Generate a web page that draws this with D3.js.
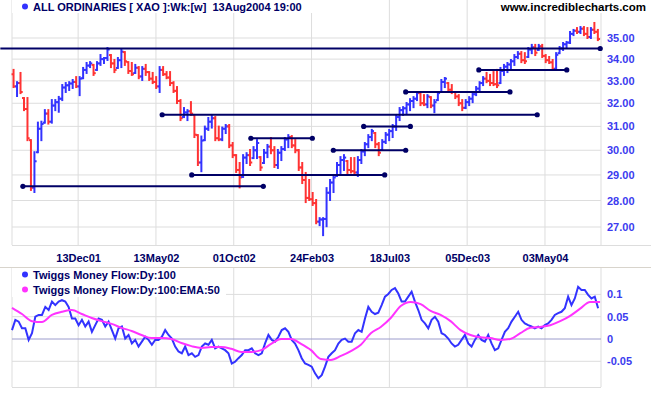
<!DOCTYPE html>
<html>
<head>
<meta charset="utf-8">
<script src="https://cdn.jsdelivr.net/npm/d3@7"></script>
<style>
body { margin: 0; background: #fff; }
svg { display: block; font-family: "Liberation Sans", Arial, sans-serif; }
</style>
</head>
<body>
<svg id="chart" width="651" height="395"></svg>
<script>
// x axis is counted in trading days, 13Dec01 = day 0, one label every 100 days
var dateLabels = ["13Dec01", "13May02", "01Oct02", "24Feb03", "18Jul03", "05Dec03", "03May04"];
var labelDays = [0, 100, 200, 300, 400, 500, 600];
var priceTicks = [27, 28, 29, 30, 31, 32, 33, 34, 35];
var flowTicks = [-0.05, 0, 0.05, 0.1];

// weekly bars of the All Ordinaries
var barStart = -83, barStep = 4.47;
var firstOpen = 33.3;
var barHigh = [33.50,32.94,33.36,32.23,32.23,30.42,29.92,31.16,31.20,31.70,31.70,32.14,32.14,32.28,32.81,32.90,32.94,33.04,33.17,33.17,
  33.59,33.82,33.86,33.73,33.86,34.19,34.05,34.52,34.19,33.96,34.05,34.43,34.33,33.86,33.82,33.73,33.63,33.63,33.73,33.40,
  33.36,33.17,33.63,33.63,33.40,33.40,32.94,32.72,32.14,31.79,31.70,32.05,31.49,30.63,30.57,30.99,31.36,31.49,31.40,30.99,
  30.95,31.06,31.06,30.30,29.80,29.48,29.80,29.88,30.01,30.13,30.42,29.72,30.01,30.22,30.51,30.13,30.01,30.13,30.51,30.63,
  30.59,30.42,30.01,29.48,29.08,28.80,28.29,28.02,27.33,27.33,28.48,28.80,29.00,29.48,29.72,29.80,29.56,29.68,29.68,29.72,
  30.01,30.30,30.63,30.85,30.72,30.30,30.42,30.72,30.85,31.06,31.49,31.79,31.83,32.01,32.18,32.27,32.50,32.50,32.36,32.36,
  32.27,32.14,32.50,33.04,33.13,32.90,32.81,32.50,32.36,32.14,32.14,32.27,32.45,32.72,32.94,33.17,33.36,33.27,33.40,33.50,
  33.59,33.73,33.82,33.96,34.19,34.33,34.33,34.28,34.52,34.67,34.67,34.67,34.67,34.19,34.10,33.96,34.28,34.57,34.76,34.81,
  35.29,35.39,35.48,35.53,35.53,35.48,35.48,35.73,35.39];
var barLow = [32.72,32.32,32.45,31.70,30.42,28.41,28.33,29.92,30.42,31.16,31.12,31.16,31.70,31.63,32.14,32.50,32.59,32.68,32.72,32.36,
  33.12,33.36,33.63,33.27,33.50,33.73,33.82,33.96,33.63,33.40,33.59,33.63,33.73,33.36,33.27,33.36,33.12,33.04,33.27,33.04,
  32.90,32.68,32.50,33.27,33.12,32.81,32.50,32.01,31.27,31.40,31.27,31.49,30.55,29.40,29.15,30.42,30.85,30.95,30.42,30.42,
  30.42,30.72,30.13,29.72,29.12,28.51,28.92,29.48,29.40,29.68,29.68,29.20,29.48,29.72,29.88,29.32,29.28,29.60,30.01,30.13,
  30.13,29.92,29.20,28.68,27.94,28.02,27.83,27.14,27.07,26.70,27.03,28.02,28.33,28.96,29.08,29.20,29.08,29.10,29.08,28.96,
  29.48,29.80,30.13,30.42,30.13,29.80,30.01,30.30,30.42,30.55,30.85,31.27,31.49,31.53,31.70,31.83,32.14,31.92,31.92,31.83,
  31.83,31.61,32.14,32.50,32.72,32.50,32.45,32.23,31.92,31.70,31.79,31.92,32.05,32.36,32.50,32.81,32.94,32.81,32.81,32.72,
  32.90,33.27,33.40,33.50,33.73,34.05,33.86,33.82,34.10,34.28,34.19,34.43,34.10,33.86,33.82,33.50,33.50,34.28,34.43,34.57,
  34.76,35.14,35.24,35.24,35.14,35.00,35.00,35.24,34.90];
var barClose = [32.75,32.90,32.50,31.75,30.50,28.50,29.55,30.90,31.10,31.55,31.20,31.90,32.05,32.20,32.70,32.80,32.88,32.95,32.75,33.10,
  33.50,33.70,33.80,33.35,33.80,34.00,34.05,34.45,33.80,33.50,33.95,34.35,33.90,33.45,33.30,33.60,33.20,33.55,33.40,33.10,
  32.95,32.75,33.50,33.30,33.15,32.90,32.55,32.10,31.35,31.60,31.65,31.55,30.65,29.50,30.40,30.90,31.20,31.35,30.50,30.45,
  30.90,31.00,30.20,29.80,29.20,28.90,29.70,29.80,29.50,30.00,30.30,29.30,29.90,30.15,30.00,29.40,29.90,30.05,30.45,30.55,
  30.20,30.00,29.30,28.80,28.10,28.05,27.90,27.20,27.28,27.30,28.30,28.70,28.90,29.40,29.60,29.70,29.20,29.15,29.10,29.60,
  29.95,30.25,30.55,30.80,30.25,29.90,30.35,30.65,30.80,31.00,31.40,31.70,31.78,31.95,32.10,32.20,32.45,32.00,31.95,32.30,
  31.90,32.05,32.45,32.95,33.10,32.60,32.50,32.30,32.00,31.80,32.05,32.20,32.40,32.65,32.90,33.10,33.00,32.90,32.85,32.80,
  33.45,33.65,33.75,33.90,34.10,34.25,33.95,33.90,34.45,34.55,34.30,34.60,34.15,33.95,33.85,33.55,34.20,34.50,34.70,34.78,
  35.20,35.35,35.30,35.45,35.20,35.05,35.40,35.30,34.95];

// horizontal support / resistance lines drawn on the chart
var levelPrice = [34.5, 28.55, 31.5, 29.0, 30.5, 30.0, 31.0, 32.5, 33.5];
var levelFrom  = [-100, -71, 108, 146, 222, 328, 367, 421, 515];
var levelTo    = [671, 238, 590, 394, 301, 421, 427, 555, 628];

// Twiggs Money Flow (100 day) and its 50 day EMA
var flowStart = -85, flowStep = 4.28;
var moneyFlow = [0.020,0.043,0.039,0.024,0.024,-0.002,0.013,0.050,0.054,0.054,
  0.072,0.065,0.084,0.076,0.084,0.087,0.084,0.072,0.046,0.046,
  0.031,0.043,0.028,0.039,0.016,0.031,0.046,0.043,0.028,0.039,
  0.020,0.001,0.024,0.028,0.001,0.009,-0.010,-0.002,-0.017,-0.006,
  0.005,-0.002,-0.013,-0.002,-0.002,0.005,0.020,0.009,0.001,-0.017,
  -0.028,-0.032,-0.017,-0.036,-0.032,-0.040,-0.036,-0.017,-0.010,-0.013,
  -0.002,-0.021,-0.017,-0.021,-0.025,-0.032,-0.055,-0.051,-0.043,-0.036,
  -0.025,-0.025,-0.021,-0.032,-0.036,-0.032,-0.010,0.009,-0.002,-0.006,
  0.005,0.020,0.024,0.016,-0.002,-0.010,-0.025,-0.043,-0.055,-0.058,
  -0.062,-0.077,-0.088,-0.081,-0.062,
  -0.040,-0.032,-0.025,-0.010,-0.002,0.001,-0.006,-0.006,0.013,0.020,
  0.016,0.046,0.072,0.061,0.056,0.059,0.076,0.095,0.101,0.110,
  0.114,0.102,0.084,0.084,0.095,0.106,0.084,0.065,0.043,0.035,
  0.024,0.043,0.050,0.039,0.013,0.009,0.001,-0.010,-0.017,-0.013,
  -0.002,0.009,-0.010,-0.017,-0.002,0.009,-0.002,-0.006,0.009,-0.010,
  -0.025,-0.021,-0.002,0.016,0.024,0.039,0.050,0.061,0.043,0.035,
  0.031,0.028,0.024,0.028,0.024,0.031,0.035,0.043,0.054,0.058,
  0.061,0.069,0.095,0.076,0.091,0.117,0.110,0.110,0.099,0.091,
  0.095,0.069];
var emaStart = -85, emaStep = 12.81;
var moneyFlowEma = [0.070,0.056,0.040,0.038,0.054,0.061,0.065,0.056,0.047,0.040,
  0.034,0.025,0.018,0.009,0.002,0.002,0.000,-0.009,-0.016,-0.020,
  -0.018,-0.018,-0.022,-0.029,-0.029,-0.025,-0.011,0.000,0.000,-0.011,
  -0.025,-0.045,-0.047,-0.038,-0.027,-0.013,0.013,0.027,0.047,0.074,
  0.083,0.078,0.063,0.054,0.040,0.020,0.009,0.004,0.002,-0.002,
  0.000,0.013,0.025,0.027,0.031,0.040,0.052,0.068,0.083,0.083];

var navy = "#000066", blue = "#3333ff", red = "#ff3333", grid = "#dddddd", labelBlue = "#3b3bef";
var left = 12, right = 601;

var svg = d3.select("#chart");

var x = d3.scaleLinear().domain([-85, 672]).range([left, right]);
var priceY = d3.scaleLog().domain([27, 35]).range([227, 38]);
var flowY = d3.scaleLinear().domain([-0.05, 0.1]).range([361.3, 294.4]);

// ---------- price panel ----------
var pricePanel = svg.append("g");

pricePanel.selectAll(".hgrid").data(priceTicks).enter().append("line")
    .attr("x1", left).attr("x2", right)
    .attr("y1", d => priceY(d)).attr("y2", d => priceY(d))
    .attr("stroke", grid);

pricePanel.selectAll(".vgrid").data(labelDays).enter().append("line")
    .attr("x1", d => x(d)).attr("x2", d => x(d))
    .attr("y1", 0).attr("y2", 245)
    .attr("stroke", grid);

pricePanel.append("line").attr("x1", left).attr("x2", left).attr("y1", 0).attr("y2", 245).attr("stroke", grid);
pricePanel.append("line").attr("x1", right).attr("x2", right).attr("y1", 0).attr("y2", 245).attr("stroke", grid);
pricePanel.append("line").attr("x1", left).attr("x2", 651).attr("y1", 245.5).attr("y2", 245.5).attr("stroke", grid);

// bars
var bars = pricePanel.append("g");
barClose.forEach(function(c, i) {
    var prev = i == 0 ? firstOpen : barClose[i - 1];
    var open = Math.max(barLow[i], Math.min(barHigh[i], prev));
    var colour = c >= prev ? blue : red;
    var bx = x(barStart + i * barStep);
    var g = bars.append("g").attr("stroke", colour).attr("stroke-width", 2);
    g.append("line").attr("x1", bx).attr("x2", bx)
        .attr("y1", priceY(barHigh[i]) - 1).attr("y2", priceY(barLow[i]) + 1);
    g.append("line").attr("x1", bx - 2).attr("x2", bx)
        .attr("y1", priceY(open)).attr("y2", priceY(open));
    g.append("line").attr("x1", bx).attr("x2", bx + 2.2)
        .attr("y1", priceY(c)).attr("y2", priceY(c));
});

// level lines
levelPrice.forEach(function(p, i) {
    var y = priceY(p);
    pricePanel.append("line")
        .attr("x1", Math.max(0, x(levelFrom[i]))).attr("x2", x(levelTo[i]))
        .attr("y1", y).attr("y2", y)
        .attr("stroke", navy).attr("stroke-width", 2);
    if (x(levelFrom[i]) >= left) {
        pricePanel.append("circle").attr("cx", x(levelFrom[i])).attr("cy", y).attr("r", 2.6).attr("fill", navy);
    }
    pricePanel.append("circle").attr("cx", x(levelTo[i])).attr("cy", y).attr("r", 2.6).attr("fill", navy);
});

// title boxes
pricePanel.append("rect").attr("x", left).attr("y", 0).attr("width", 306).attr("height", 13).attr("fill", "#fff");
pricePanel.append("circle").attr("cx", 25).attr("cy", 6.5).attr("r", 3).attr("fill", blue);
pricePanel.append("text").attr("x", 33).attr("y", 11)
    .attr("font-size", 11).attr("font-weight", "bold").attr("fill", navy)
    .attr("xml:space", "preserve")
    .text("ALL ORDINARIES [ XAO ]:Wk:[w]  13Aug2004 19:00");

pricePanel.append("rect").attr("x", 494).attr("y", 0).attr("width", 157).attr("height", 13).attr("fill", "#fff");
pricePanel.append("text").attr("x", 646).attr("y", 11).attr("text-anchor", "end")
    .attr("font-size", 11.5).attr("font-weight", "bold").attr("fill", "#000")
    .text("www.incrediblecharts.com");

var priceAxis = pricePanel.append("g").attr("transform", "translate(" + right + ",0)")
    .call(d3.axisRight(priceY).tickValues(priceTicks).tickFormat(d3.format(".2f")).tickSize(0).tickPadding(6));
priceAxis.select(".domain").remove();
priceAxis.selectAll("text").attr("font-size", 11).attr("font-weight", "bold")
    .attr("font-family", "Liberation Sans, Arial, sans-serif").attr("fill", labelBlue);

// date labels
var dateAxis = svg.append("g").attr("transform", "translate(0,245)")
    .call(d3.axisBottom(x).tickValues(labelDays).tickFormat((d, i) => dateLabels[i]).tickSize(0).tickPadding(9));
dateAxis.select(".domain").remove();
dateAxis.selectAll("text").attr("font-size", 11).attr("font-weight", "bold")
    .attr("font-family", "Liberation Sans, Arial, sans-serif").attr("fill", navy);

// ---------- money flow panel ----------
var flowPanel = svg.append("g");
flowPanel.append("line").attr("x1", 0).attr("x2", 651).attr("y1", 267.5).attr("y2", 267.5).attr("stroke", "#d8d4cc");

flowPanel.selectAll(".hgrid").data(flowTicks.filter(d => d != 0)).enter().append("line")
    .attr("x1", left).attr("x2", right)
    .attr("y1", d => flowY(d)).attr("y2", d => flowY(d))
    .attr("stroke", grid);
flowPanel.selectAll(".vgrid").data(labelDays).enter().append("line")
    .attr("x1", d => x(d)).attr("x2", d => x(d))
    .attr("y1", 268).attr("y2", 387)
    .attr("stroke", grid);
flowPanel.append("line").attr("x1", left).attr("x2", left).attr("y1", 268).attr("y2", 387).attr("stroke", grid);
flowPanel.append("line").attr("x1", right).attr("x2", right).attr("y1", 268).attr("y2", 387).attr("stroke", grid);
flowPanel.append("line").attr("x1", left).attr("x2", right).attr("y1", 387.5).attr("y2", 387.5).attr("stroke", grid);
flowPanel.append("line").attr("x1", left).attr("x2", right)
    .attr("y1", flowY(0)).attr("y2", flowY(0)).attr("stroke", "#9c9ccc");

var flowLine = d3.line()
    .x((d, i) => x(flowStart + i * flowStep))
    .y(d => flowY(d));
var emaLine = d3.line()
    .x((d, i) => x(emaStart + i * emaStep))
    .y(d => flowY(d))
    .curve(d3.curveMonotoneX);

flowPanel.append("path").datum(moneyFlow).attr("d", flowLine)
    .attr("fill", "none").attr("stroke", blue).attr("stroke-width", 2);
flowPanel.append("path").datum(moneyFlowEma).attr("d", emaLine)
    .attr("fill", "none").attr("stroke", "#ff33ff").attr("stroke-width", 2);

// legend
flowPanel.append("rect").attr("x", left).attr("y", 268).attr("width", 214).attr("height", 29).attr("fill", "#fff");
var legendItems = [["Twiggs Money Flow:Dy:100", blue], ["Twiggs Money Flow:Dy:100:EMA:50", "#ff33ff"]];
legendItems.forEach(function(item, i) {
    flowPanel.append("circle").attr("cx", 25).attr("cy", 274.5 + i * 15).attr("r", 3).attr("fill", item[1]);
    flowPanel.append("text").attr("x", 33).attr("y", 279 + i * 15)
        .attr("font-size", 11).attr("font-weight", "bold").attr("fill", navy)
        .text(item[0]);
});

var flowAxis = flowPanel.append("g").attr("transform", "translate(" + right + ",0)")
    .call(d3.axisRight(flowY).tickValues(flowTicks).tickFormat(d => String(d)).tickSize(0).tickPadding(6));
flowAxis.select(".domain").remove();
flowAxis.selectAll("text").attr("font-size", 11).attr("font-weight", "bold")
    .attr("font-family", "Liberation Sans, Arial, sans-serif").attr("fill", labelBlue);
</script>
</body>
</html>
